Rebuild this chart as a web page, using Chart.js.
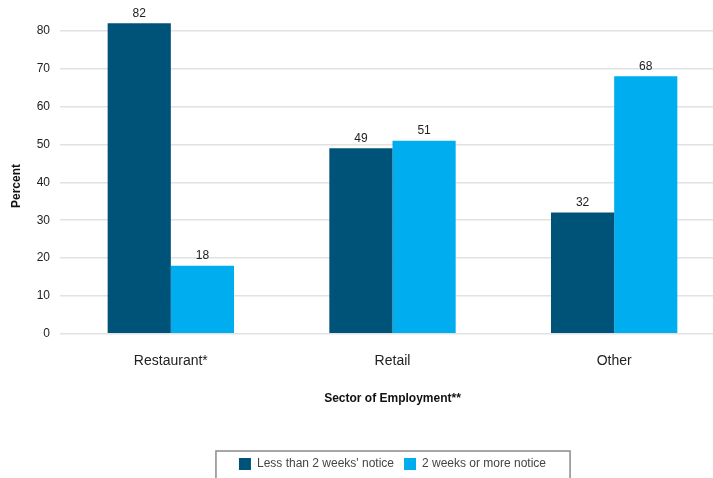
<!DOCTYPE html>
<html>
<head>
<meta charset="utf-8">
<script src="https://cdn.jsdelivr.net/npm/chart.js@4"></script>
<style>
  html, body { margin: 0; padding: 0; background: #fff; overflow: hidden; }
  #wrap { width: 713px; height: 478px; overflow: hidden; position: relative; }
  #box { width: 788px; height: 480px; }
</style>
</head>
<body>
<div id="wrap"><div id="box"><canvas id="noticeChart"></canvas></div></div>
<script>
/* ---------- data ---------- */
const sectors = ["Restaurant*", "Retail", "Other"];
const lessThanTwoWeeks = [82, 49, 32];
const twoWeeksOrMore = [18, 51, 68];
const yTicks = [0, 10, 20, 30, 40, 50, 60, 70, 80];

const FONT = "'Liberation Sans', Arial, sans-serif";
const DARK = "#005378";
const LIGHT = "#00AEEF";

/* value labels above each bar */
const barValues = {
  id: "barValues",
  afterDatasetsDraw(chart) {
    const ctx = chart.ctx;
    ctx.save();
    ctx.font = "12px " + FONT;
    ctx.fillStyle = "#222";
    ctx.textAlign = "center";
    ctx.textBaseline = "middle";
    chart.data.datasets.forEach((ds, i) => {
      chart.getDatasetMeta(i).data.forEach((bar, j) => {
        ctx.fillText(String(ds.data[j]), bar.x, bar.y - 10);
      });
    });
    ctx.restore();
  }
};

/* vertical axis caption, sits a little below the axis middle */
const yCaption = {
  id: "yCaption",
  afterDraw(chart) {
    const ctx = chart.ctx;
    ctx.save();
    ctx.translate(17, 186);
    ctx.rotate(-Math.PI / 2);
    ctx.font = "bold 12px " + FONT;
    ctx.fillStyle = "#111";
    ctx.textAlign = "center";
    ctx.textBaseline = "middle";
    ctx.fillText("Percent", 0, 0);
    ctx.restore();
  }
};

/* framed legend */
const legendFrame = {
  id: "legendFrame",
  afterDraw(chart) {
    const lg = chart.legend;
    if (!lg || !lg.legendHitBoxes || !lg.legendHitBoxes.length) return;
    const boxes = lg.legendHitBoxes;
    const left = Math.min(...boxes.map(b => b.left)) - 23;
    const right = Math.max(...boxes.map(b => b.left + b.width)) + 24;
    const top = Math.min(...boxes.map(b => b.top)) - 7;
    const ctx = chart.ctx;
    ctx.save();
    ctx.strokeStyle = "#8a8a8a";
    ctx.lineWidth = 1.5;
    ctx.strokeRect(left, top, right - left, chart.height - top + 10);
    ctx.restore();
  }
};

new Chart(document.getElementById("noticeChart"), {
  type: "bar",
  data: {
    labels: sectors,
    datasets: [
      { label: "Less than 2 weeks' notice", data: lessThanTwoWeeks, backgroundColor: DARK },
      { label: "2 weeks or more notice", data: twoWeeksOrMore, backgroundColor: LIGHT }
    ]
  },
  options: {
    responsive: true,
    maintainAspectRatio: false,
    animation: false,
    layout: { padding: { left: 0, right: 63, top: 7, bottom: 0 } },
    datasets: { bar: { categoryPercentage: 0.57, barPercentage: 1.0 } },
    plugins: {
      tooltip: { enabled: false },
      legend: {
        position: "bottom",
        fullSize: false,
        labels: {
          boxWidth: 12,
          boxHeight: 12,
          padding: 10,
          color: "#444",
          font: { family: FONT, size: 12 }
        }
      }
    },
    scales: {
      x: {
        grid: { display: false, drawTicks: false },
        border: { display: false },
        ticks: { padding: 19, color: "#222", font: { family: FONT, size: 14 } },
        title: {
          display: true,
          text: "Sector of Employment**",
          color: "#111",
          font: { family: FONT, size: 12, weight: "bold" },
          padding: { top: 3, bottom: 42 }
        }
      },
      y: {
        min: 0,
        max: 83.6,
        grid: { color: "#e2e2e2", lineWidth: 1.5, drawTicks: false },
        border: { display: false },
        afterBuildTicks(scale) {
          scale.ticks = yTicks.map(v => ({ value: v }));
        },
        afterFit(scale) { scale.width = 60; },
        ticks: { padding: 10, color: "#222", font: { family: FONT, size: 12 } }
      }
    }
  },
  plugins: [barValues, yCaption, legendFrame]
});
</script>
</body>
</html>
